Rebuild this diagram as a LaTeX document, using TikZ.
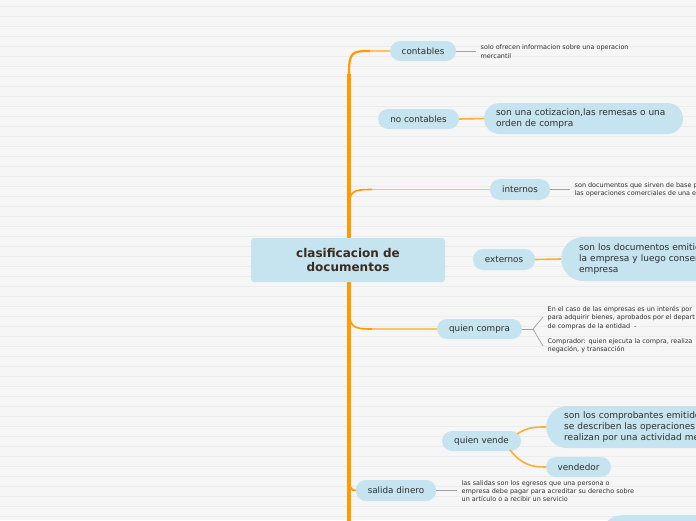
\documentclass[tikz,border=0pt]{standalone}
\usepackage{fontspec}
\setmainfont{DejaVu Sans}
\definecolor{bgc}{HTML}{F6F6F6}
\definecolor{bglc}{HTML}{ECECEC}
\definecolor{pillc}{HTML}{C5E4F0}
\definecolor{txt}{HTML}{2E2E2E}
\definecolor{titc}{HTML}{3B2A1E}
\definecolor{trunkc}{HTML}{FF9A00}
\definecolor{lightor}{HTML}{FFC266}
\definecolor{grayc}{HTML}{A0A0A0}
\begin{document}
\begin{tikzpicture}[x=1pt,y=-1pt,
  pill/.style={fill=pillc,rounded corners=10pt,inner sep=0pt,minimum height=20pt,
    font=\fontsize{8.8}{10}\selectfont,text=txt},
  bigpill/.style={fill=pillc,inner sep=0pt,font=\fontsize{9}{11.3}\selectfont,text=txt,align=left},
  note/.style={inner sep=0pt,font=\fontsize{6.45}{8.4}\selectfont,text=txt,align=left,anchor=west},
  trunk/.style={draw=trunkc,line width=4.5pt},
  thinor/.style={draw=lightor,line width=1.5pt},
  orline/.style={draw=trunkc!80!white,line width=1.6pt},
  gline/.style={draw=grayc,line width=1pt}]
\useasboundingbox (0,0) rectangle (696,520);
\clip (0,0) rectangle (696,520);
\fill[bgc] (0,0) rectangle (696,520);
\foreach \yy in {6.5,16.5,...,516.5} \draw[bglc,line width=1pt] (0,\yy) -- (696,\yy);

% trunk coordinates
\coordinate (tbot) at (349,525);
\coordinate (ttop) at (349,74);
\coordinate (tint) at (349,210);
\coordinate (tqc) at (349,306);
\coordinate (tsd) at (349,474);

% nodes
\node[pill,minimum width=66pt] (cont) at (423,51) {contables};
\node[pill,minimum width=81pt] (nocont) at (418.5,119) {no contables};
\node[bigpill,minimum width=199pt,minimum height=31pt,rounded corners=15.5pt,text width=175pt] (cotiz) at (583.5,118.5)
  {son una cotizacion,las remesas o una\\orden de compra};
\node[pill,minimum width=60pt,minimum height=21pt] (inter) at (520,189.5) {internos};
\node[pill,minimum width=62pt,minimum height=21pt] (exter) at (504,259.5) {externos};
\node[bigpill,minimum width=200pt,minimum height=44pt,rounded corners=22pt,text width=164pt,anchor=west] (extdoc) at (561,259)
  {son los documentos emitid\\la empresa y luego conser\\empresa};
\node[pill,minimum width=85pt] (qc) at (479.5,329) {quien compra};
\node[pill,minimum width=79pt] (qv) at (481.5,441) {quien vende};
\node[bigpill,minimum width=200pt,minimum height=42pt,rounded corners=21pt,text width=164pt,anchor=west] (comprob) at (546,427)
  {son los comprobantes emitido\\se describen las operaciones \\realizan por una actividad me};
\node[pill,minimum width=65pt] (vend) at (578.5,467) {vendedor};
\node[pill,minimum width=80pt,minimum height=21pt] (sd) at (396,490.5) {salida dinero};
\node[fill=pillc,rounded corners=22pt,minimum width=160pt,minimum height=44pt,inner sep=0pt,anchor=north west] (bottom) at (600,515) {};

% notes
\node[note] (ncont) at (480.5,51.5) {solo ofrecen informacion sobre una operacion\\mercantil};
\node[note] (ninter) at (574.5,189.5) {son documentos que sirven de base p\\las operaciones comerciales de una e};
\node[note] (nqc1) at (547.5,318) {En el caso de las empresas es un interés por\\para adquirir bienes, aprobados por el depart\\de compras de la entidad\ \ -};
\node[note] (nqc2) at (547.5,345.5) {Comprador: quien ejecuta la compra, realiza\\negación, y transacción};
\node[note] (nsd) at (461.5,491) {las salidas son los egresos que una persona o\\empresa debe pagar para acreditar su derecho sobre\\un artículo o a recibir un servicio};

% trunk and branches
\draw[trunk] (tbot) -- (ttop);
\draw[trunkc,line width=2.2pt] (ttop) .. controls (349,52) and (352,51) .. (370,51);
\draw[thinor] (370,51) -- (cont.west);
\draw[trunkc,line width=1.6pt] (tint) .. controls (349,191) and (352,189.5) .. (372,189.5);
\draw[thinor,line width=1.2pt] (372,189.5) -- (inter.west);
\draw[trunkc,line width=1.6pt] (tqc) .. controls (349,327) and (352,329) .. (372,329);
\draw[thinor,line width=1.2pt] (372,329) -- (qc.west);
\draw[trunkc,line width=1.8pt] (tsd) .. controls (349,488) and (351,490.5) .. (sd.west);

% title over trunk
\node[fill=pillc,rounded corners=3pt,minimum width=194pt,minimum height=44pt,inner sep=0pt,
  font=\fontsize{12}{14}\bfseries\selectfont,text=titc,align=center] (title) at (348,260)
  {clasificacion de\\documentos};

% orange links
\draw[orline] (nocont.east) -- (cotiz.west);
\draw[orline] (exter.east) -- (extdoc.west);
\draw[orline] (517,434) .. controls (528,427) and (535,427) .. (comprob.west);
\draw[orline] (510,450) .. controls (522,465) and (532,467) .. (vend.west);

% gray links
\draw[gline] (cont.east) -- (476,51);
\draw[gline] (inter.east) -- (570,189.5);
\coordinate (fork) at (533,329);
\draw[gline] (qc.east) -- (fork);
\draw[gline,line width=0.7pt] (fork) -- (543,317);
\draw[gline,line width=0.7pt] (fork) -- (543,346);
\draw[gline] (sd.east) -- (457,490.5);
\end{tikzpicture}
\end{document}
